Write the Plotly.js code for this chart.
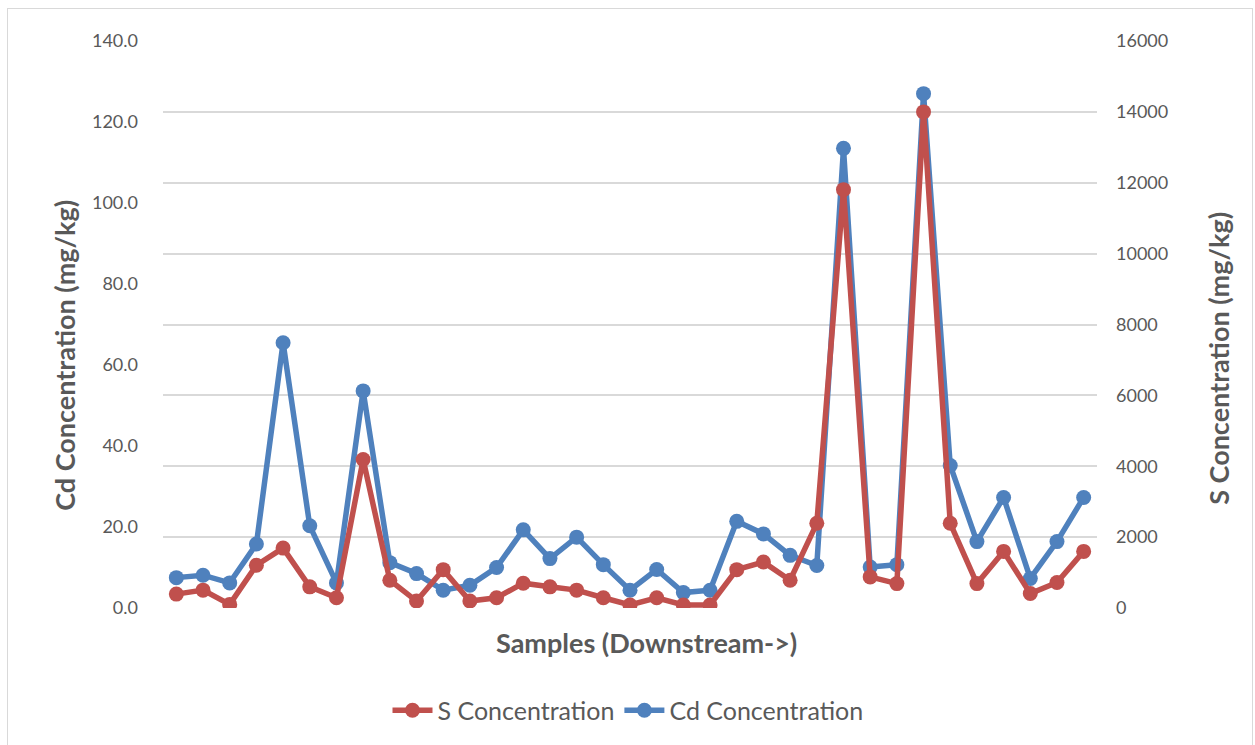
<!DOCTYPE html>
<html><head><meta charset="utf-8">
<script src="https://cdn.plot.ly/plotly-3.0.1.min.js"></script>
<style>
html,body{margin:0;padding:0;background:#fff;}
#frame{position:absolute;left:7px;top:8px;width:1246px;height:745px;border:1px solid #d9d9d9;box-sizing:border-box;}
#chart{position:absolute;left:0;top:0;width:1255px;height:745px;}
</style></head>
<body><div id="frame"></div><div id="chart"></div>
<script>
const samples = Array.from({length:35}, (_, i) => 'Sample ' + (i + 1));
const sConcentration = [392, 504, 101, 1205, 1690, 597, 289, 4192, 785, 196, 1082, 196, 289, 700,
  597, 504, 289, 84, 289, 84, 84, 1082, 1297, 785, 2390, 11805, 877, 689, 14000, 2390,
  689, 1597, 409, 718, 1597];
const cdConcentration = [7.5, 8.1, 6.2, 15.8, 65.5, 20.3, 6.2, 53.6, 11.2, 8.5, 4.4, 5.6, 10.0, 19.3,
  12.2, 17.5, 10.7, 4.4, 9.5, 3.8, 4.4, 21.4, 18.3, 13.0, 10.5, 113.5, 10.1, 10.7, 127.0, 35.2,
  16.4, 27.3, 7.3, 16.4, 27.3];
const leftTicks = [0, 20, 40, 60, 80, 100, 120, 140];
const rightTicks = [0, 2000, 4000, 6000, 8000, 10000, 12000, 14000, 16000];

const FONT = 'Lato, "Open Sans", sans-serif';
const GREY = '#595959';
const RED = '#C0504D', BLUE = '#4F81BD';

const traces = [
  {x: samples, y: sConcentration, name: 'S Concentration', yaxis: 'y2', type: 'scatter',
   mode: 'lines+markers', line: {color: RED, width: 5.5}, marker: {color: RED, size: 15}},
  {x: samples, y: cdConcentration, name: 'Cd Concentration', yaxis: 'y', type: 'scatter',
   mode: 'lines+markers', line: {color: BLUE, width: 5.5}, marker: {color: BLUE, size: 15}}
];

const L = 163, R = 1097, T = 41, B = 611;
const px = v => (v - L) / (R - L);
const py = v => (B - v) / (B - T);

const layout = {
  width: 1255, height: 745,
  margin: {l: L, r: 1255 - R, t: T, b: 745 - B, pad: 0},
  paper_bgcolor: 'rgba(0,0,0,0)', plot_bgcolor: 'rgba(0,0,0,0)',
  font: {family: FONT, color: GREY},
  showlegend: true,
  legend: {orientation: 'h', x: px(628), xanchor: 'center', y: py(714), yanchor: 'middle',
           font: {size: 25, color: GREY, family: FONT}, itemwidth: 40, tracegroupgap: 0},
  xaxis: {type: 'category', range: [-0.5, samples.length - 0.5], showticklabels: false,
          showgrid: false, zeroline: false, showline: false, ticks: '', fixedrange: true},
  yaxis: {range: [0, 140], tickvals: leftTicks, ticktext: leftTicks.map(v => v.toFixed(1)),
          showgrid: false, zeroline: false, showline: false, ticks: '',
          ticklabelstandoff: 24, tickfont: {size: 18, color: GREY, family: FONT}},
  yaxis2: {range: [0, 16000], tickvals: rightTicks, ticktext: rightTicks.map(String),
           overlaying: 'y', side: 'right',
           showgrid: true, gridcolor: '#d9d9d9', gridwidth: 2, zeroline: false, showline: false,
           ticks: '', ticklabelstandoff: 18, tickfont: {size: 18, color: GREY, family: FONT}},
  annotations: [
    {text: '<b>Cd Concentration (mg/kg)</b>', xref: 'paper', yref: 'paper', x: px(46), y: py(357),
     textangle: -90, showarrow: false, font: {size: 27, color: GREY, family: FONT}},
    {text: '<b>S Concentration (mg/kg)</b>', xref: 'paper', yref: 'paper', x: px(1237), y: py(360),
     textangle: -90, showarrow: false, font: {size: 27, color: GREY, family: FONT}},
    {text: '<b>Samples (Downstream->)</b>', xref: 'paper', yref: 'paper', x: px(646), y: py(664),
     showarrow: false, font: {size: 27, color: GREY, family: FONT}}
  ]
};
Plotly.newPlot('chart', traces, layout, {displayModeBar: false, staticPlot: true});
</script>
</body></html>
